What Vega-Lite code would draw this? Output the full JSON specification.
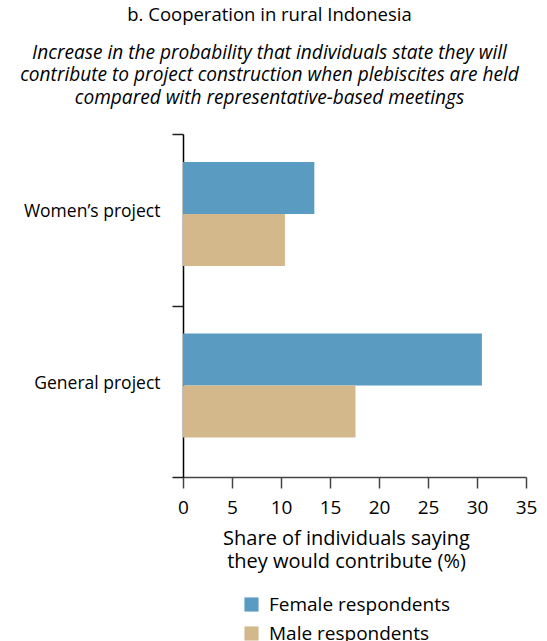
{
  "$schema": "https://vega.github.io/schema/vega-lite/v6.json",
  "width": 343,
  "height": 343,
  "autosize": {"type": "none"},
  "padding": {"left": 183, "top": 134, "right": 21, "bottom": 164},
  "background": "white",
  "config": {
    "font": "Open Sans",
    "view": {"stroke": null}
  },
  "title": {
    "text": "b. Cooperation in rural Indonesia",
    "subtitle": [
      "Increase in the probability that individuals state they will",
      "contribute to project construction when plebiscites are held",
      "compared with representative-based meetings"
    ],
    "anchor": "middle",
    "frame": "group",
    "dx": -85,
    "offset": 17,
    "font": "Open Sans",
    "fontSize": 18.5,
    "fontWeight": "normal",
    "color": "black",
    "subtitleFont": "Open Sans",
    "subtitleFontSize": 19.1,
    "subtitleFontStyle": "italic",
    "subtitleColor": "black",
    "subtitlePadding": 19,
    "subtitleLineHeight": 22.5
  },
  "data": {
    "values": [
      {"project": "Women’s project", "gender": "Female respondents", "value": 13.4},
      {"project": "Women’s project", "gender": "Male respondents", "value": 10.4},
      {"project": "General project", "gender": "Female respondents", "value": 30.5},
      {"project": "General project", "gender": "Male respondents", "value": 17.6}
    ]
  },
  "mark": {"type": "bar"},
  "encoding": {
    "y": {
      "field": "project",
      "type": "nominal",
      "sort": ["Women’s project", "General project"],
      "scale": {"paddingInner": 0, "paddingOuter": 0},
      "axis": {
        "title": null,
        "tickBand": "extent",
        "labelFontSize": 17.5,
        "labelColor": "black",
        "labelPadding": 12,
        "labelOffset": -8,
        "labelLimit": 300,
        "tickSize": 11,
        "tickColor": "#222",
        "tickWidth": 1.5,
        "domainColor": "black",
        "domainWidth": 1.5
      }
    },
    "yOffset": {
      "field": "gender",
      "type": "nominal",
      "sort": ["Female respondents", "Male respondents"],
      "scale": {"paddingInner": 0, "paddingOuter": 0.649, "align": 0.415}
    },
    "x": {
      "field": "value",
      "type": "quantitative",
      "scale": {"domain": [0, 35], "nice": false},
      "axis": {
        "values": [0, 5, 10, 15, 20, 25, 30, 35],
        "grid": false,
        "title": ["Share of individuals saying", "they would contribute (%)"],
        "titleFontSize": 20,
        "titleFontWeight": "normal",
        "titleColor": "black",
        "titlePadding": 11,
        "titleLineHeight": 23,
        "titleX": 163,
        "labelFontSize": 19,
        "labelColor": "black",
        "labelPadding": 10,
        "labelFlush": false,
        "labelOverlap": false,
        "tickSize": 11,
        "tickColor": "#444",
        "tickWidth": 1.5,
        "domainColor": "#444",
        "domainWidth": 1.5
      }
    },
    "color": {
      "field": "gender",
      "type": "nominal",
      "scale": {
        "domain": ["Female respondents", "Male respondents"],
        "range": ["#5a9bc2", "#d3b88b"]
      },
      "legend": {
        "title": null,
        "orient": "none",
        "legendX": 59,
        "legendY": 461,
        "direction": "vertical",
        "symbolType": "square",
        "symbolSize": 200,
        "symbolStrokeWidth": 0,
        "labelFontSize": 19,
        "labelColor": "black",
        "labelLimit": 300,
        "rowPadding": 9,
        "labelOffset": 8
      }
    }
  }
}
